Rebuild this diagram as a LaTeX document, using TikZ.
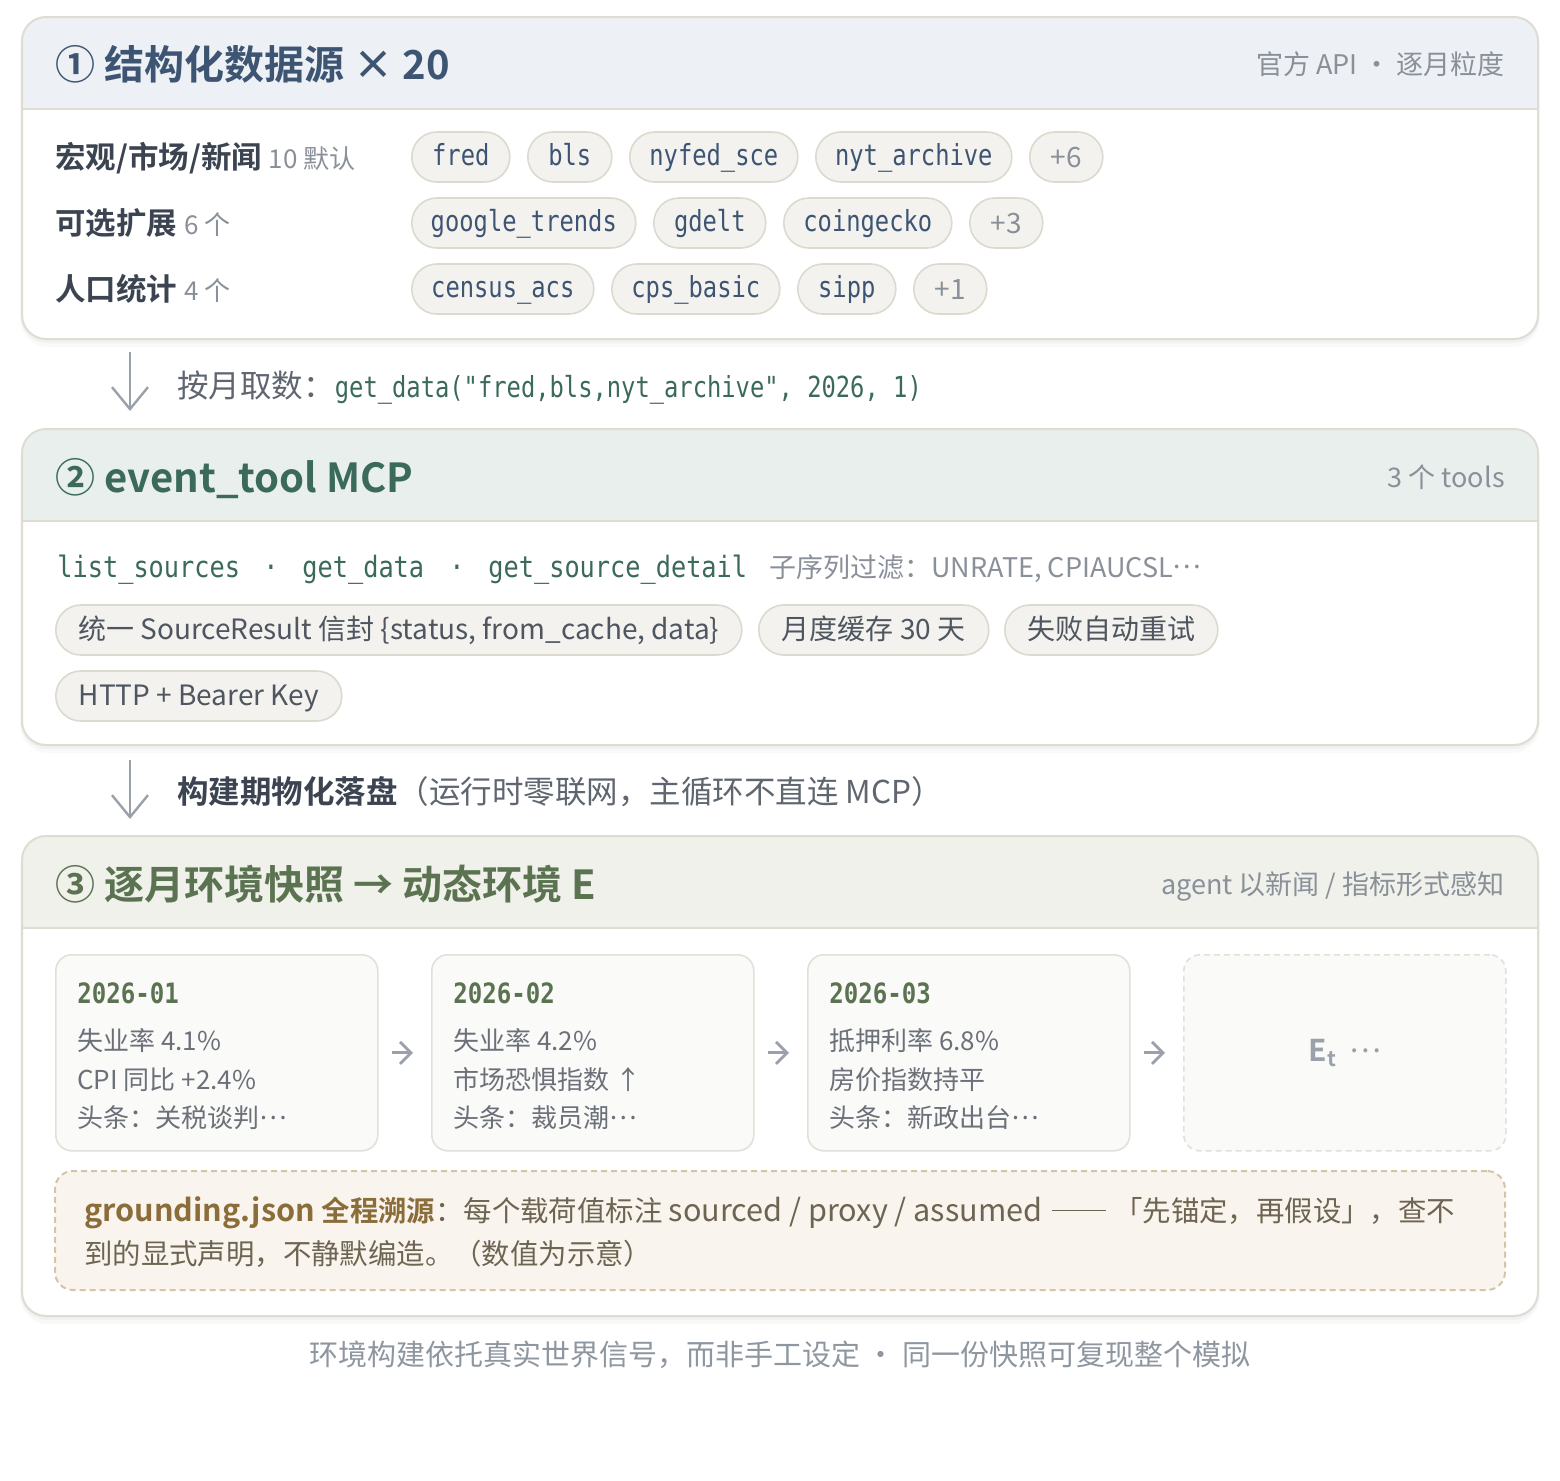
\documentclass[tikz,border=0pt]{standalone}
\usepackage{fontspec}
\setmainfont{Noto Sans CJK SC}[BoldFont={Noto Sans CJK SC Bold}]
\newfontfamily\codefont{DejaVu Sans Mono}[FakeStretch=0.82]
\newfontfamily\codefontb{DejaVu Sans Mono}[FakeStretch=0.86]
\usetikzlibrary{arrows.meta,fit}
\newcommand\fsz[1]{\fontsize{#1}{#1}\selectfont}
\newcommand\mdots{\raisebox{0.3em}{…}}
\definecolor{bordc}{HTML}{DFDCD3}
\definecolor{hdrA}{HTML}{EDF0F4}
\definecolor{hdrB}{HTML}{E9EFEC}
\definecolor{hdrC}{HTML}{EFF1EA}
\definecolor{titleA}{HTML}{3D5573}
\definecolor{titleB}{HTML}{3B6A5C}
\definecolor{titleC}{HTML}{5B7350}
\definecolor{lgray}{HTML}{8A9099}
\definecolor{mgray}{HTML}{5F6670}
\definecolor{darkt}{HTML}{3B4450}
\definecolor{chipf}{HTML}{F3F2EE}
\definecolor{chipl}{HTML}{DCD9CF}
\definecolor{chipt}{HTML}{4F5660}
\definecolor{cardf}{HTML}{FAFAF8}
\definecolor{cardl}{HTML}{E2E0D8}
\definecolor{cardt}{HTML}{6B7079}
\definecolor{arrowc}{HTML}{9AA1AA}
\definecolor{gfill}{HTML}{F9F5EE}
\definecolor{gline}{HTML}{D5C5A8}
\definecolor{gbold}{HTML}{8B6D3A}
\definecolor{gtext}{HTML}{6E6452}
\definecolor{foot}{HTML}{8E96A0}
\newcommand\drawsec[5]{%
  \fill[black,opacity=0.03,rounded corners=13pt] (21,#2+2) rectangle (1539,#3+4);
  \fill[black,opacity=0.025,rounded corners=14pt] (20,#2+4) rectangle (1540,#3+8);
  \node[secbox, fit={(22,#2)(1538,#3)}] (#1) {};
  \begin{scope}
    \clip[rounded corners=12pt] (22,#2) rectangle (1538,#3);
    \fill[#5] (22,#2) rectangle (1538,#4);
    \draw[bordc,line width=0.8pt] (22,#4) -- (1538,#4);
  \end{scope}
  \draw[bordc,line width=1pt,rounded corners=12pt] (22,#2) rectangle (1538,#3);
}
\newcommand\chip[5][chipm]{\node[#1,minimum width=#4*0.5pt] (#2) at (#3) {#5};}
\begin{document}
\begin{tikzpicture}[x=0.5pt,y=-0.5pt,
  txt/.style={inner sep=0pt,anchor=base west},
  txtr/.style={inner sep=0pt,anchor=base east},
  secbox/.style={fill=white,rounded corners=12pt,inner sep=0pt},
  chipm/.style={draw=chipl,fill=chipf,line width=0.8pt,rounded corners=12.5pt,
    minimum height=25pt,inner sep=0pt,anchor=west,font=\codefont\fsz{14.5},
    text=titleA,text height=10.4pt,text depth=2.4pt},
  chipn/.style={chipm,font=\fsz{14},text=lgray,text height=11.5pt,text depth=1.5pt},
  chips/.style={chipm,font=\fsz{14},text=chipt,text height=11.6pt,text depth=1.8pt},
  downarrow/.style={draw=arrowc,line width=1.2pt,-{Straight Barb[length=11pt,width=18pt,line width=1.2pt]}},
  cardarrow/.style={draw=arrowc,line width=1.4pt,-{Straight Barb[length=5.5pt,width=11pt,line width=1.4pt]}},
  card/.style={draw=cardl,fill=cardf,line width=0.8pt,rounded corners=8pt,
    minimum width=161pt,minimum height=98pt,inner sep=0pt,anchor=north west},
  cardtitle/.style={txt,font=\codefontb\bfseries\fsz{14},text=titleC},
  cardline/.style={txt,font=\fsz{13},text=cardt},
]
\useasboundingbox (0,0) rectangle (1560,1480);
\fill[white] (0,0) rectangle (1560,1480);

% ---------- Section 1 ----------
\drawsec{s1}{17}{339}{109}{hdrA}
\node[txt,font=\bfseries\fsz{20},text=titleA] (h1) at (55,79) {① 结构化数据源 × 20};
\node[txtr,font=\fsz{13.5},text=lgray] (h1r) at (1505,74) {官方 API · 逐月粒度};

\node[txt,font=\bfseries\fsz{15.25},text=darkt] (l1) at (55,168) {宏观/市场/新闻 {\mdseries\fsz{13}\color{lgray}10 默认}};
\node[txt,font=\bfseries\fsz{15.25},text=darkt] (l2) at (55,234) {可选扩展 {\mdseries\fsz{13}\color{lgray}6 个}};
\node[txt,font=\bfseries\fsz{15.25},text=darkt] (l3) at (55,300) {人口统计 {\mdseries\fsz{13}\color{lgray}4 个}};

\chip{cfred}{411,157}{98}{fred}
\chip{cbls}{527,157}{84}{bls}
\chip{cnyfed}{629,157}{168}{nyfed\_sce}
\chip{cnyt}{815,157}{196}{nyt\_archive}
\chip[chipn]{cpsix}{1029,157}{73}{+6}
\chip{cgoog}{411,223}{224}{google\_trends}
\chip{cgdelt}{653,223}{112}{gdelt}
\chip{ccoin}{783,223}{168}{coingecko}
\chip[chipn]{cpthree}{969,223}{73}{+3}
\chip{ccens}{411,289}{182}{census\_acs}
\chip{ccps}{611,289}{168}{cps\_basic}
\chip{csipp}{797,289}{98}{sipp}
\chip[chipn]{cpone}{913,289}{73}{+1}

% ---------- Arrow 1 ----------
\coordinate (a1s) at (130,352);
\coordinate (a1e) at (130,411);
\draw[downarrow] (a1s) -- (a1e);
\node[txt,font=\fsz{15.75},text=mgray] (t1) at (177,397) {按月取数：{\codefont\fsz{14.5}\color{titleB}get\_data("fred,bls,nyt\_archive", 2026, 1)}};

% ---------- Section 2 ----------
\drawsec{s2}{429}{745}{521}{hdrB}
\node[txt,font=\bfseries\fsz{20},text=titleB] (h2) at (55,492) {② event\_tool MCP};
\node[txtr,font=\fsz{13.5},text=lgray] (h2r) at (1505,487) {3 个 tools};

\node[txt,font=\codefontb\fsz{14.7},text=titleB] (m1) at (57,577) {list\_sources};
\node[inner sep=0pt,anchor=base,font=\codefontb\fsz{14.7},text=titleB] (d1) at (271,577) {·};
\node[txt,font=\codefontb\fsz{14.7},text=titleB] (m2) at (302,577) {get\_data};
\node[inner sep=0pt,anchor=base,font=\codefontb\fsz{14.7},text=titleB] (d2) at (457,577) {·};
\node[txt,font=\codefontb\fsz{14.7},text=titleB] (m3) at (488,577) {get\_source\_detail};
\node[txt,font=\fsz{13.5},text=lgray] (m4) at (769,577) {子序列过滤：UNRATE, CPIAUCSL\mdots};

\chip[chips]{kone}{55,630}{686}{统一 SourceResult 信封 \{status, from\_cache, data\}}
\chip[chips]{ktwo}{758,630}{230}{月度缓存 30 天}
\chip[chips]{kthree}{1004,630}{213}{失败自动重试}
\chip[chips]{kfour}{55,696}{286}{HTTP + Bearer Key}

% ---------- Arrow 2 ----------
\coordinate (a2s) at (130,760);
\coordinate (a2e) at (130,819);
\draw[downarrow] (a2s) -- (a2e);
\node[txt,font=\fsz{15.75},text=mgray] (t2) at (177,803) {{\bfseries\color{darkt}构建期物化落盘}（运行时零联网，主循环不直连 MCP）};

% ---------- Section 3 ----------
\drawsec{s3}{836}{1316}{928}{hdrC}
\node[txt,font=\bfseries\fsz{20},text=titleC] (h3) at (55,899) {③ 逐月环境快照 → 动态环境 E};
\node[txtr,font=\fsz{13.5},text=lgray] (h3r) at (1505,894) {agent 以新闻 / 指标形式感知};

\node[card] (c1) at (55,954) {};
\node[card] (c2) at (431,954) {};
\node[card] (c3) at (807,954) {};
\node[card,draw=cardl,dash pattern=on 3pt off 2pt] (c4) at (1183,954) {};

\node[cardtitle] at (77,1003) {2026-01};
\node[cardline] at (77,1050) {失业率 4.1\%};
\node[cardline] at (77,1089) {CPI 同比 +2.4\%};
\node[cardline] at (77,1127) {头条：关税谈判\mdots};

\node[cardtitle] at (453,1003) {2026-02};
\node[cardline] at (453,1050) {失业率 4.2\%};
\node[cardline] at (453,1089) {市场恐惧指数 ↑};
\node[cardline] at (453,1127) {头条：裁员潮\mdots};

\node[cardtitle] at (829,1003) {2026-03};
\node[cardline] at (829,1050) {抵押利率 6.8\%};
\node[cardline] at (829,1089) {房价指数持平};
\node[cardline] at (829,1127) {头条：新政出台\mdots};

\node[inner sep=0pt,font=\fsz{15},text=arrowc] (et) at (c4) {{\bfseries E\textsubscript{t}}\hspace{6pt}\mdots};

\draw[cardarrow,shorten <=6.5pt,shorten >=9pt] (c1) -- (c2);
\draw[cardarrow,shorten <=6.5pt,shorten >=9pt] (c2) -- (c3);
\draw[cardarrow,shorten <=6.5pt,shorten >=9pt] (c3) -- (c4);

\node[draw=gline,fill=gfill,line width=1pt,dash pattern=on 3pt off 2pt,rounded corners=9pt,
  inner sep=0pt,fit={(55,1171)(1505,1290)}] (g) {};
\node[txt,font=\fsz{14.2},text=gtext] (g1) at (84,1221) {{\bfseries\color{gbold}{\fsz{15.3}grounding.json} 全程溯源}：每个载荷值标注 {\fsz{15.3}sourced / proxy / assumed}\hspace{5pt}\rule[0.34em]{27pt}{0.55pt}\hspace{4pt}「先锚定，再假设」，查不};
\node[txt,font=\fsz{14.2},text=gtext] (g2) at (84,1264) {到的显式声明，不静默编造。（数值为示意）};

% ---------- Footer ----------
\node[inner sep=0pt,anchor=base,font=\fsz{14.5},text=foot] (ft) at (780,1365) {环境构建依托真实世界信号，而非手工设定 · 同一份快照可复现整个模拟};
\end{tikzpicture}
\end{document}
